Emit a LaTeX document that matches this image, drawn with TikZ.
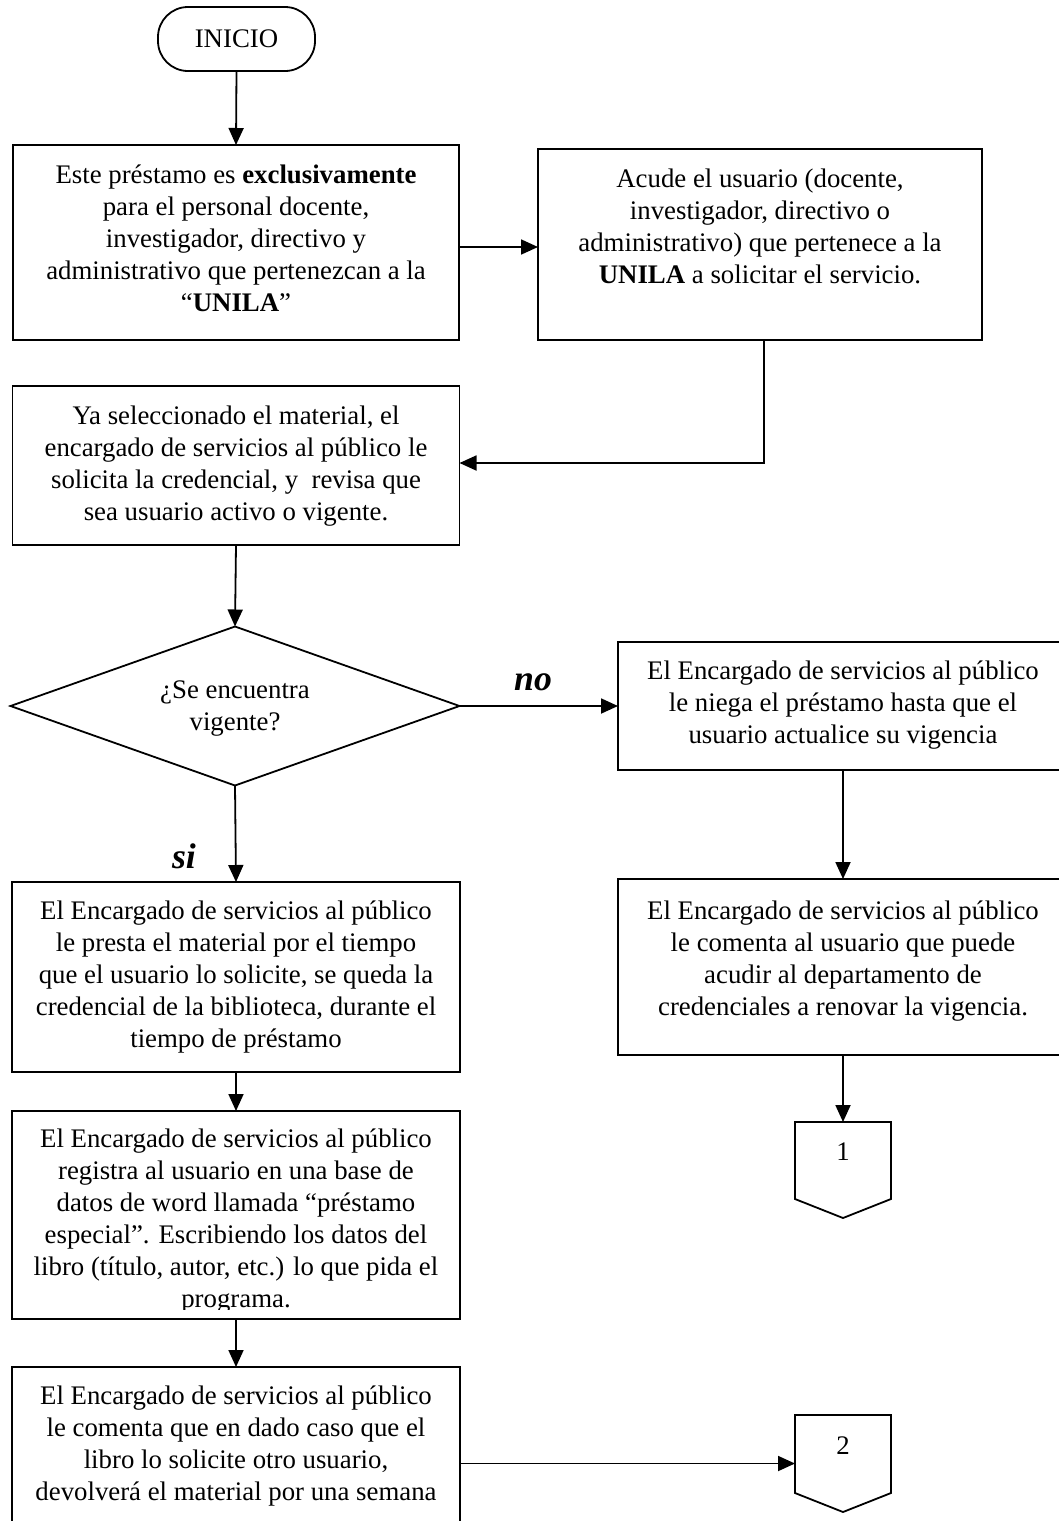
\documentclass[tikz,border=0pt]{standalone}
\usepackage{fontspec}
\setmainfont{Liberation Serif}
\usetikzlibrary{arrows.meta,calc}
\begin{document}
\begin{tikzpicture}[x=1pt,y=-1pt,
  line width=1.8pt,
  every node/.style={inner sep=0pt, outer sep=0pt},
  txt/.style={align=center, font=\fontsize{26.8}{32}\selectfont},
  frame/.style={draw, rectangle},
  shell/.style={rectangle},
  flow/.style={-{Triangle[length=17pt,width=15pt]}},
  tag/.style={font=\fontsize{35.7}{40}\selectfont\bfseries\itshape},
]
\useasboundingbox (0,0) rectangle (1058,1521);

% start terminal
\node[frame, rounded corners=30pt, minimum width=157pt, minimum height=64pt, txt] (b0) at (236.5,39) {INICIO};

% boxes
\node[frame, minimum width=446pt, minimum height=195pt] (b1) at (236,242.5) {};
\node[txt] (b1t) at (236,238) {Este préstamo es \textbf{exclusivamente}\\para el personal docente,\\investigador, directivo y\\administrativo que pertenezcan a la\\“\textbf{UNILA}”};

\node[frame, minimum width=444pt, minimum height=191pt] (b2) at (760,244.5) {};
\node[txt] (b2t) at (760,226) {Acude el usuario (docente,\\investigador, directivo o\\administrativo) que pertenece a la\\\textbf{UNILA} a solicitar el servicio.};

\node[frame, minimum width=447pt, minimum height=159pt] (b3) at (236,465.5) {};
\node[txt] (b3t) at (236,466) {Ya seleccionado el material, el\\encargado de servicios al público le\\solicita la credencial, y\ \ revisa que\\sea usuario activo o vigente.};

% decision
\node[shell, minimum width=449pt, minimum height=159pt] (d) at (235,706) {};
\draw (d.west) -- (d.north) -- (d.east) -- (d.south) -- cycle;
\node[txt] (dt) at (235,709) {¿Se encuentra\\vigente?};

% right column
\node[frame, minimum width=450pt, minimum height=128pt] (b4) at (843,706) {};
\node[txt] (b4t) at (843,705) {El Encargado de servicios al público\\le niega el préstamo hasta que el\\usuario actualice su vigencia};

\node[frame, minimum width=450pt, minimum height=176pt] (b5) at (843,967) {};
\node[txt] (b5t) at (843,961) {El Encargado de servicios al público\\le comenta al usuario que puede\\acudir al departamento de\\credenciales a renovar la vigencia.};

\node[shell, minimum width=96pt, minimum height=96pt] (p1) at (843,1170) {};
\draw (p1.north west) -- (p1.north east) -- ($(p1.south east)+(0,-19)$) -- (p1.south) -- ($(p1.south west)+(0,-19)$) -- cycle;
\node[txt] (p1t) at ($(p1.north)+(0,30)$) {1};

% left column, lower part
\node[frame, minimum width=448pt, minimum height=190pt] (b6) at (236,977) {};
\node[txt] (b6t) at (236,977) {El Encargado de servicios al público\\le presta el material por el tiempo\\que el usuario lo solicite, se queda la\\credencial de la biblioteca, durante el\\tiempo de préstamo};

\node[frame, minimum width=448pt, minimum height=208pt] (b7) at (236,1215) {};
\begin{scope}
  \clip (b7.north west) rectangle ($(b7.south east)+(0,-10)$);
  \node[txt] (b7t) at (236,1221) {El Encargado de servicios al público\\registra al usuario en una base de\\datos de word llamada “préstamo\\especial”. Escribiendo los datos del\\libro (título, autor, etc.) lo que pida el\\programa.};
\end{scope}

\node[frame, minimum width=448pt, minimum height=200pt] (b8) at (236,1467) {};
\node[txt] (b8t) at (236,1446) {El Encargado de servicios al público\\le comenta que en dado caso que el\\libro lo solicite otro usuario,\\devolverá el material por una semana};

\node[shell, minimum width=96pt, minimum height=97pt] (p2) at (843,1463.5) {};
\draw (p2.north west) -- (p2.north east) -- ($(p2.south east)+(0,-19)$) -- (p2.south) -- ($(p2.south west)+(0,-19)$) -- cycle;
\node[txt] (p2t) at ($(p2.north)+(0,31)$) {2};

% connectors
\draw[flow] (b0.south) -- (b1.north);
\draw[flow] ([yshift=-4.5pt]b1.east) -- ([yshift=-4.5pt]b1.east -| b2.west);
\draw[flow] ([xshift=4pt]b2.south) -- ([xshift=4pt]b2.south |- 0,463) -- (b3.east |- 0,463);
\draw[flow] (b3.south) -- (d.north);
\draw[flow] (d.east) -- (b4.west);
\draw[flow] (d.south) -- (b6.north);
\draw[flow] (b4.south) -- (b5.north);
\draw[flow] (b5.south) -- (p1.north);
\draw[flow] (b6.south) -- (b7.north);
\draw[flow] (b7.south) -- (b8.north);
\draw[flow] (b8.east |- p2.west) -- (p2.west);

% branch labels
\node[tag] (no) at (533,682) {no};
\node[tag] (si) at (184,856) {si};
\end{tikzpicture}
\end{document}
